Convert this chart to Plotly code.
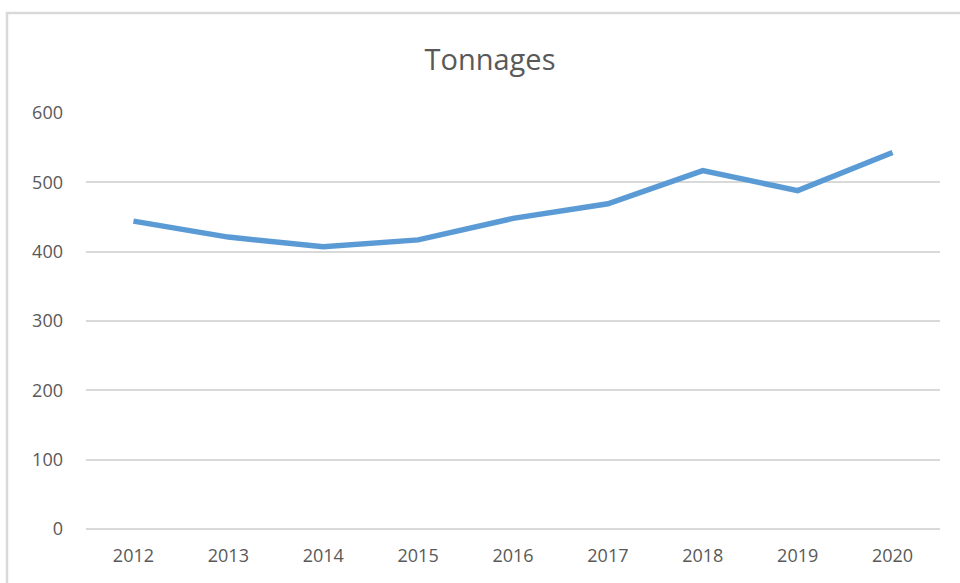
import plotly.graph_objects as go

years = ["2012", "2013", "2014", "2015", "2016", "2017", "2018", "2019", "2020"]
tonnages = [444, 421, 407, 417, 448, 469, 517, 488, 543]
y_ticks = [0, 100, 200, 300, 400, 500, 600]

fig = go.Figure()
fig.add_trace(go.Scatter(
    x=years, y=tonnages, mode="lines",
    line=dict(color="#5b9bd5", width=5.5),
    hoverinfo="x+y", showlegend=False,
))

L, R, T, B = 86, 20, 113, 54
W, H = 960, 583
pw, ph = W - L - R, H - T - B

fig.update_layout(
    width=W, height=H,
    margin=dict(l=L, r=R, t=T, b=B, pad=0),
    paper_bgcolor="white", plot_bgcolor="white",
    font=dict(family="Open Sans, Liberation Sans, sans-serif", color="#595959", size=18),
    title=dict(text="Tonnages", x=490 / W, xanchor="center", y=1 - 60 / H, yanchor="middle",
               yref="container", xref="container",
               font=dict(size=29, color="#595959")),
    xaxis=dict(type="category", range=[-0.5, len(years) - 0.5], showgrid=False,
               showline=False, zeroline=False,
               ticks="", ticklabelstandoff=14, tickfont=dict(size=18)),
    yaxis=dict(range=[0, 600], tickvals=y_ticks, showgrid=True, gridcolor="#d9d9d9",
               gridwidth=1.8, zeroline=True, zerolinecolor="#d9d9d9", zerolinewidth=1.8,
               showline=False, ticks="", ticklabelstandoff=22, tickfont=dict(size=18)),
    shapes=[dict(type="rect", xref="paper", yref="paper",
                 x0=(7 - L) / pw, x1=(980 - L) / pw,
                 y0=(H - B - 600) / ph, y1=(H - B - 13) / ph,
                 line=dict(color="#d9d9d9", width=2.5), fillcolor="rgba(0,0,0,0)",
                 layer="below")],
)

fig.write_html("out.html", config={"displayModeBar": False},
               post_script="document.body.style.margin='0';document.body.style.overflow='hidden';")
